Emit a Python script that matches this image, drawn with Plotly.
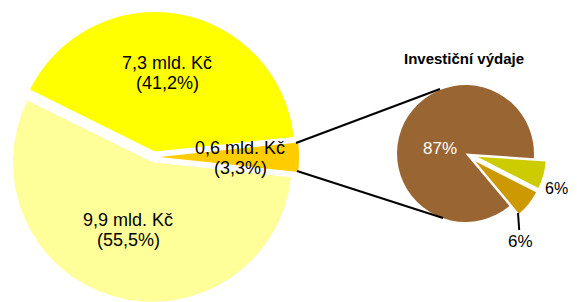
import plotly.graph_objects as go

# Main pie: total expenditures (mld. Kč)
main_labels = ["Investiční výdaje", "Neinvestiční výdaje A", "Neinvestiční výdaje B"]
main_values = [0.6, 7.3, 9.9]
main_pct = ["3,3%", "41,2%", "55,5%"]
main_text = ["0,6 mld. Kč", "7,3 mld. Kč", "9,9 mld. Kč"]
main_colors = ["#FFCC00", "#FFFF00", "#FFFF99"]

# Secondary pie: investment expenditures breakdown (%)
inv_title = "Investiční výdaje"
inv_labels = ["Část 1", "Část 2", "Část 3"]
inv_values = [6.4, 6.4, 87.2]
inv_text = ["6%", "6%", "87%"]
inv_colors = ["#CCCC00", "#CC9900", "#996633"]

# the page has an 8px body margin, so the figure is drawn 8px smaller
W, H = 569, 294
FONT = "Liberation Sans, Arial, sans-serif"


def px(x):
    return x / W


def py(y):
    return 1 - y / H


def label(x, y, text, size, color, yshift=0, **kw):
    fig.add_annotation(x=px(x), y=py(y), xref="paper", yref="paper",
                       xanchor="center", yanchor="middle",
                       text=text, yshift=yshift,
                       font=dict(family=FONT, size=size, color=color), **kw)


fig = go.Figure()

fig.add_trace(go.Pie(
    labels=main_labels,
    values=main_values,
    textinfo="none",
    sort=False,
    direction="counterclockwise",
    rotation=84,
    pull=[0.04, 0.04, 0.04],
    marker=dict(colors=main_colors, line=dict(width=0)),
    domain=dict(x=[px(1), px(291)], y=[0, py(4)]),
    hoverinfo="skip",
    showlegend=False,
))

fig.add_trace(go.Pie(
    labels=inv_labels,
    values=inv_values,
    textinfo="none",
    sort=False,
    direction="clockwise",
    rotation=94,
    pull=[0.18, 0.18, 0],
    marker=dict(colors=inv_colors, line=dict(width=0)),
    domain=dict(x=[px(376.7), px(538.3)], y=[py(226.3), py(64.7)]),
    hoverinfo="skip",
    showlegend=False,
))

# labels of the main pie (two lines each)
main_pos = [(232, 150), (159, 65), (120, 222)]
for (x, y), t, p in zip(main_pos, main_text, main_pct):
    label(x, y, t, 18, "black", yshift=10, showarrow=False)
    label(x, y, f"({p})", 18, "black", yshift=-10, showarrow=False)

# labels of the secondary pie
label(432, 140, inv_text[2], 17, "white", showarrow=False)
label(548, 180, inv_text[0], 16, "black", showarrow=False)
label(510, 205, inv_text[1], 17, "black", showarrow=True, arrowhead=0,
      arrowwidth=2, arrowcolor="black", ax=2, ay=28)

# title of the secondary pie
label(455.5, 51, f"<b>{inv_title}</b>", 15, "black", showarrow=False)

# connector lines between the exploded slice and the secondary pie
fig.add_shape(type="line", xref="paper", yref="paper",
              x0=px(288), y0=py(135), x1=px(432), y1=py(81),
              line=dict(color="black", width=2))
fig.add_shape(type="line", xref="paper", yref="paper",
              x0=px(289), y0=py(163), x1=px(435), y1=py(210),
              line=dict(color="black", width=2))

fig.update_layout(
    width=W, height=H,
    margin=dict(l=0, r=0, t=0, b=0),
    paper_bgcolor="white",
    plot_bgcolor="white",
)

fig.write_html("out.html")
